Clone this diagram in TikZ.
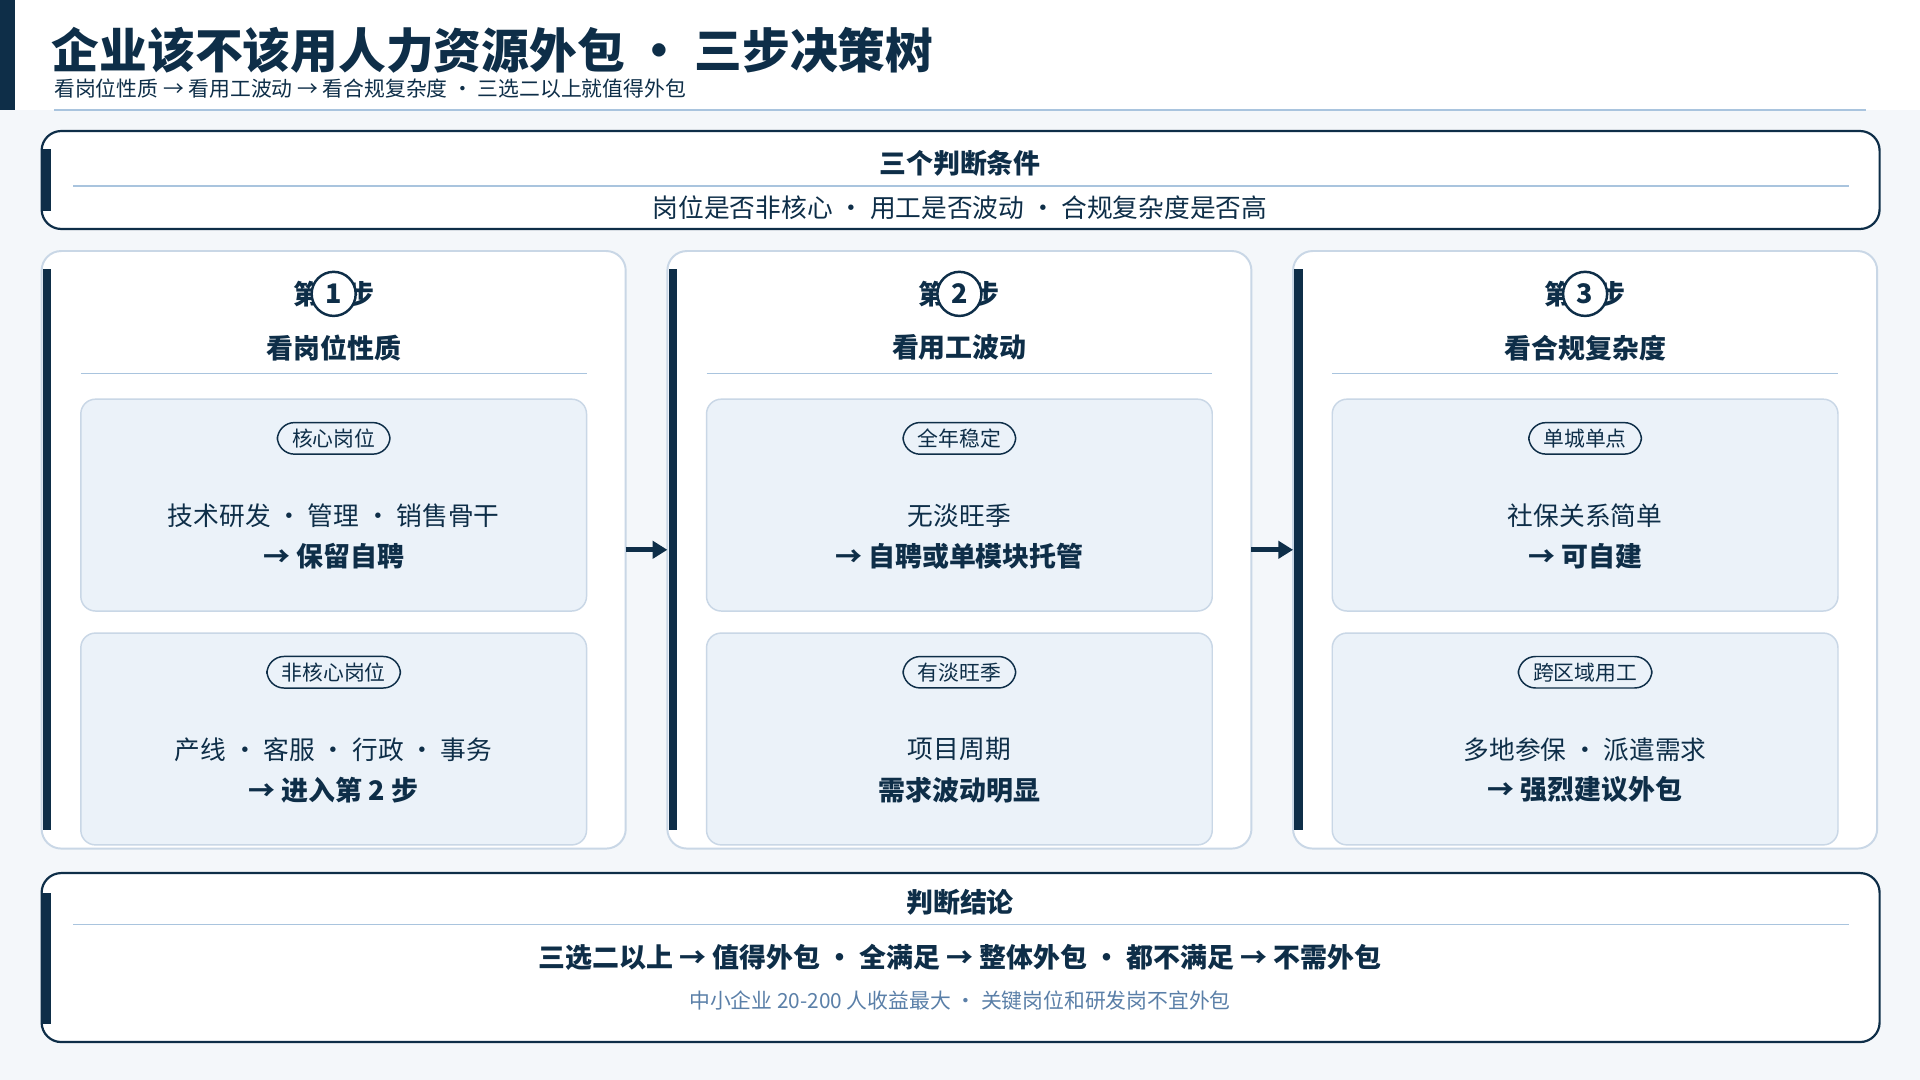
\documentclass[tikz,border=0pt]{standalone}
\usepackage{fontspec}
\setmainfont{Noto Sans CJK SC}
\usetikzlibrary{arrows.meta}
\definecolor{navy}{HTML}{0E2E48}
\definecolor{cardb}{HTML}{C9D7E6}
\definecolor{inner}{HTML}{EBF2F9}
\definecolor{rule}{HTML}{A9C4DE}
\definecolor{grey}{HTML}{5A7FA8}
\definecolor{pg}{HTML}{F4F7FA}
\begin{document}
\begin{tikzpicture}[x=0.5pt,y=-0.5pt,
  card/.style={draw=cardb,line width=0.8pt,fill=white,rounded corners=8pt},
  frame/.style={draw=navy,line width=0.9pt,fill=white,rounded corners=8pt},
  bar/.style={fill=navy,draw=none},
  ibox/.style={draw=cardb,line width=0.6pt,fill=inner,rounded corners=6pt},
  pill/.style={draw=navy,line width=0.6pt,fill=inner,rounded corners=7pt,font=\fontsize{8.5}{10}\selectfont,text=navy,inner xsep=6pt,inner ysep=2.5pt},
  body/.style={font=\fontsize{10.5}{12}\selectfont,text=navy},
  res/.style={font=\bfseries\fontsize{11}{13}\selectfont,text=navy},
  head/.style={font=\bfseries\fontsize{11}{13}\selectfont,text=navy},
  hline/.style={draw=rule,line width=0.6pt},
  conn/.style={draw=navy,line width=2pt,-{Triangle[length=6pt,width=7pt]}}]
\fill[pg] (0,0) rectangle (1568,882);
\fill[white] (0,0) rectangle (1568,90);
\useasboundingbox (0,0) rectangle (1568,882);
\fill[bar] (0,0) rectangle (12,90);
\node[anchor=base west,font=\bfseries\fontsize{19.5}{22}\selectfont,text=navy,inner sep=0] (title) at (42,56) {企业该不该用人力资源外包 · 三步决策树};
\node[anchor=base west,font=\fontsize{8.5}{10}\selectfont,text=navy,inner sep=0] (sub) at (44,79) {看岗位性质 → 看用工波动 → 看合规复杂度 · 三选二以上就值得外包};
\draw[hline] (44,90) -- (1524,90);
% conditions
\draw[frame] (34,107) rectangle (1535,187);
\fill[bar] (34,122) rectangle (42,172);
\node[head] (ct) at (784,133) {三个判断条件};
\draw[hline] (60,152) -- (1510,152);
\node[body] (cx) at (784,170) {岗位是否非核心 · 用工是否波动 · 合规复杂度是否高};
% steps
\foreach \i/\x/\hd/\pa/\ta/\ra/\pb/\tb/\rb in {
 1/34/看岗位性质/核心岗位/技术研发 · 管理 · 销售骨干/→ 保留自聘/非核心岗位/产线 · 客服 · 行政 · 事务/→ 进入第 2 步,
 2/545/看用工波动/全年稳定/无淡旺季/→ 自聘或单模块托管/有淡旺季 / 项目周期/需求波动明显/→ 建议外包（弹性价值）,
 3/1056/看合规复杂度/单城单点/社保关系简单/→ 可自建/跨区域用工/多地参保 · 派遣需求/→ 强烈建议外包}{
 \pgfmathsetmacro\cx{\x+238.5}
 \draw[card] (\x,205) rectangle ++(477,488);
 \fill[bar] (\x+1,220) rectangle (\x+8,678);
 \coordinate (L\i) at (\x,449);
 \coordinate (R\i) at (\x+477,449);
 \node[head] (s\i a) at (\cx-22,240) {第};
 \node[head] (s\i c) at (\cx+22,240) {步};
 \node[draw=navy,line width=1pt,fill=white,circle,minimum size=18pt,inner sep=0,head] (s\i n) at (\cx,240) {\i};
 \node[head] (h\i) at (\cx,284) {\hd};
 \draw[hline] (\x+32,305) -- (\x+445,305);
 \draw[ibox] (\x+32,326) rectangle (\x+445,499);
 \draw[ibox] (\x+32,517) rectangle (\x+445,690);
 \node[pill] (p\i a) at (\cx,358) {\pa};
 \node[body] (t\i a) at (\cx,421) {\ta};
 \node[res] (r\i a) at (\cx,454) {\ra};
 \node[pill] (p\i b) at (\cx,549) {\pb};
 \node[body] (t\i b) at (\cx,612) {\tb};
 \node[res] (r\i b) at (\cx,645) {\rb};
}
\draw[conn] (R1) -- (L2);
\draw[conn] (R2) -- (L3);
% conclusion
\draw[frame] (34,713) rectangle (1535,851);
\fill[bar] (34,729) rectangle (42,836);
\node[head] (kt) at (784,737) {判断结论};
\draw[hline] (60,755) -- (1510,755);
\node[res] (kb) at (784,782) {三选二以上 → 值得外包 · 全满足 → 整体外包 · 都不满足 → 不需外包};
\node[font=\fontsize{8.5}{10}\selectfont,text=grey] (kg) at (784,817) {中小企业 20-200 人收益最大 · 关键岗位和研发岗不宜外包};
\end{tikzpicture}
\end{document}
